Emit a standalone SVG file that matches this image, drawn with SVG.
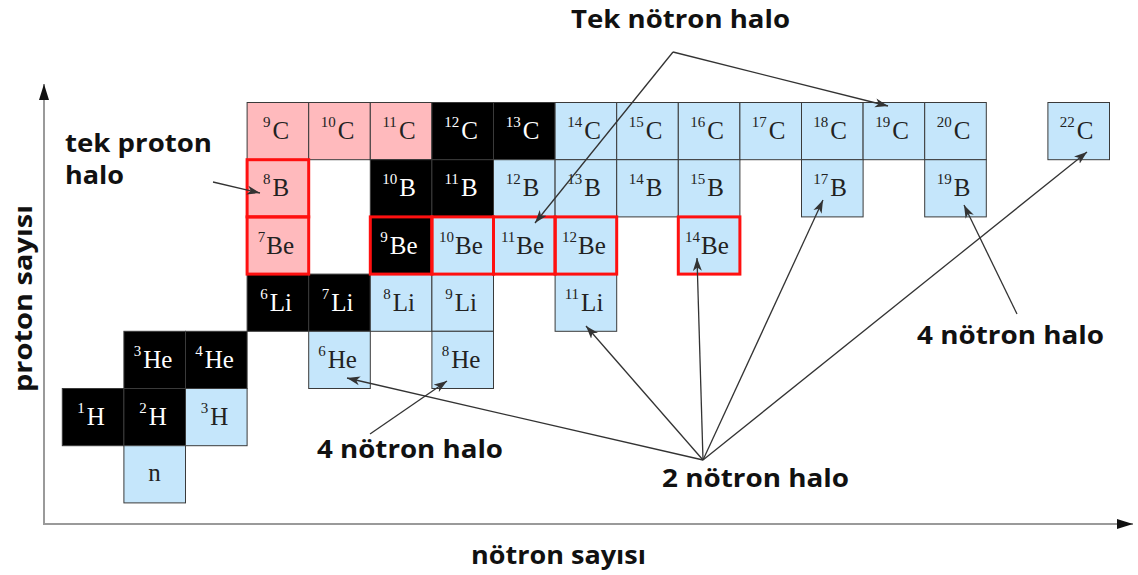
<svg xmlns="http://www.w3.org/2000/svg" width="1138" height="575" viewBox="0 0 1138 575">
<style>
.cell{stroke:#3a3a3a;stroke-width:1}
.pk{fill:#ffbabd}
.bl{fill:#c5e6fb}
.bk{fill:#000000}
.red{fill:none;stroke:#ff1010;stroke-width:3}
.iso{font-family:"Liberation Serif","DejaVu Serif",serif;font-size:25px;text-anchor:middle;fill:#222}
.w{fill:#ffffff}
.sup{font-size:15px}
.lab{font-family:"Open Sans","DejaVu Sans",sans-serif;font-weight:700;font-size:25px;fill:#111}
.conn{stroke:#333;stroke-width:1.3;fill:none}
.axis{stroke:#9a9a9a;stroke-width:2;fill:none}
</style>
<defs>
<marker id="ah" markerUnits="userSpaceOnUse" markerWidth="14" markerHeight="10" refX="13" refY="5" orient="auto">
<path d="M0,0.5 L13,5 L0,9.5 L3.5,5 Z" fill="#333"/>
</marker>
<marker id="ax" markerUnits="userSpaceOnUse" markerWidth="18" markerHeight="12" refX="16" refY="6" orient="auto">
<path d="M0,1 L16,6 L0,11 Z" fill="#111"/>
</marker>
</defs>

<g id="axes">
<line class="axis" x1="44" y1="525" x2="44" y2="84" marker-end="url(#ax)"/>
<line class="axis" x1="43" y1="524" x2="1133" y2="524" marker-end="url(#ax)"/>
<text class="lab" x="471" y="564" textLength="175" lengthAdjust="spacingAndGlyphs" font-size="23">nötron sayısı</text>
<text class="lab" transform="translate(32,392) rotate(-90)" x="0" y="0" textLength="187" lengthAdjust="spacingAndGlyphs" font-size="23">proton sayısı</text>
</g>

<!-- C row -->
<g id="C9"><rect class="cell pk" x="247.1" y="102.5" width="61.6" height="57.2"/><text class="iso" x="276" y="138.5"><tspan class="sup" dy="-12">9</tspan><tspan dx="2" dy="12">C</tspan></text></g>
<g id="C10"><rect class="cell pk" x="308.7" y="102.5" width="61.6" height="57.2"/><text class="iso" x="337.5" y="138.5"><tspan class="sup" dy="-12">10</tspan><tspan dx="2" dy="12">C</tspan></text></g>
<g id="C11"><rect class="cell pk" x="370.3" y="102.5" width="61.6" height="57.2"/><text class="iso" x="399" y="138.5"><tspan class="sup" dy="-12">11</tspan><tspan dx="2" dy="12">C</tspan></text></g>
<g id="C12"><rect class="cell bk" x="431.9" y="102.5" width="61.6" height="57.2"/><text class="iso w" x="461" y="138.5"><tspan class="sup" dy="-12">12</tspan><tspan dx="2" dy="12">C</tspan></text></g>
<g id="C13"><rect class="cell bk" x="493.5" y="102.5" width="61.6" height="57.2"/><text class="iso w" x="522.5" y="138.5"><tspan class="sup" dy="-12">13</tspan><tspan dx="2" dy="12">C</tspan></text></g>
<g id="C14"><rect class="cell bl" x="555.1" y="102.5" width="61.6" height="57.2"/><text class="iso" x="584" y="138.5"><tspan class="sup" dy="-12">14</tspan><tspan dx="2" dy="12">C</tspan></text></g>
<g id="C15"><rect class="cell bl" x="616.7" y="102.5" width="61.6" height="57.2"/><text class="iso" x="645.5" y="138.5"><tspan class="sup" dy="-12">15</tspan><tspan dx="2" dy="12">C</tspan></text></g>
<g id="C16"><rect class="cell bl" x="678.3" y="102.5" width="61.6" height="57.2"/><text class="iso" x="707" y="138.5"><tspan class="sup" dy="-12">16</tspan><tspan dx="2" dy="12">C</tspan></text></g>
<g id="C17"><rect class="cell bl" x="739.9" y="102.5" width="61.6" height="57.2"/><text class="iso" x="768.5" y="138.5"><tspan class="sup" dy="-12">17</tspan><tspan dx="2" dy="12">C</tspan></text></g>
<g id="C18"><rect class="cell bl" x="801.5" y="102.5" width="61.6" height="57.2"/><text class="iso" x="830" y="138.5"><tspan class="sup" dy="-12">18</tspan><tspan dx="2" dy="12">C</tspan></text></g>
<g id="C19"><rect class="cell bl" x="863.1" y="102.5" width="61.6" height="57.2"/><text class="iso" x="892" y="138.5"><tspan class="sup" dy="-12">19</tspan><tspan dx="2" dy="12">C</tspan></text></g>
<g id="C20"><rect class="cell bl" x="924.7" y="102.5" width="61.6" height="57.2"/><text class="iso" x="953.5" y="138.5"><tspan class="sup" dy="-12">20</tspan><tspan dx="2" dy="12">C</tspan></text></g>
<g id="C22"><rect class="cell bl" x="1047.9" y="102.5" width="61.6" height="57.2"/><text class="iso" x="1076.5" y="138.5"><tspan class="sup" dy="-12">22</tspan><tspan dx="2" dy="12">C</tspan></text></g>

<!-- B row -->
<g id="B8"><rect class="cell pk" x="247.1" y="159.7" width="61.6" height="57.2"/><text class="iso" x="276" y="196"><tspan class="sup" dy="-12">8</tspan><tspan dx="2" dy="12">B</tspan></text></g>
<g id="B10"><rect class="cell bk" x="370.3" y="159.7" width="61.6" height="57.2"/><text class="iso w" x="399" y="196"><tspan class="sup" dy="-12">10</tspan><tspan dx="2" dy="12">B</tspan></text></g>
<g id="B11"><rect class="cell bk" x="431.9" y="159.7" width="61.6" height="57.2"/><text class="iso w" x="461" y="196"><tspan class="sup" dy="-12">11</tspan><tspan dx="2" dy="12">B</tspan></text></g>
<g id="B12"><rect class="cell bl" x="493.5" y="159.7" width="61.6" height="57.2"/><text class="iso" x="522.5" y="196"><tspan class="sup" dy="-12">12</tspan><tspan dx="2" dy="12">B</tspan></text></g>
<g id="B13"><rect class="cell bl" x="555.1" y="159.7" width="61.6" height="57.2"/><text class="iso" x="584" y="196"><tspan class="sup" dy="-12">13</tspan><tspan dx="2" dy="12">B</tspan></text></g>
<g id="B14"><rect class="cell bl" x="616.7" y="159.7" width="61.6" height="57.2"/><text class="iso" x="645.5" y="196"><tspan class="sup" dy="-12">14</tspan><tspan dx="2" dy="12">B</tspan></text></g>
<g id="B15"><rect class="cell bl" x="678.3" y="159.7" width="61.6" height="57.2"/><text class="iso" x="707" y="196"><tspan class="sup" dy="-12">15</tspan><tspan dx="2" dy="12">B</tspan></text></g>
<g id="B17"><rect class="cell bl" x="801.5" y="159.7" width="61.6" height="57.2"/><text class="iso" x="830" y="196"><tspan class="sup" dy="-12">17</tspan><tspan dx="2" dy="12">B</tspan></text></g>
<g id="B19"><rect class="cell bl" x="924.7" y="159.7" width="61.6" height="57.2"/><text class="iso" x="953.5" y="196"><tspan class="sup" dy="-12">19</tspan><tspan dx="2" dy="12">B</tspan></text></g>

<!-- Li row -->
<g id="Li6"><rect class="cell bk" x="247.1" y="274.1" width="61.6" height="57.2"/><text class="iso w" x="276" y="310.5"><tspan class="sup" dy="-12">6</tspan><tspan dx="2" dy="12">Li</tspan></text></g>
<g id="Li7"><rect class="cell bk" x="308.7" y="274.1" width="61.6" height="57.2"/><text class="iso w" x="337.5" y="310.5"><tspan class="sup" dy="-12">7</tspan><tspan dx="2" dy="12">Li</tspan></text></g>
<g id="Li8"><rect class="cell bl" x="370.3" y="274.1" width="61.6" height="57.2"/><text class="iso" x="399" y="310.5"><tspan class="sup" dy="-12">8</tspan><tspan dx="2" dy="12">Li</tspan></text></g>
<g id="Li9"><rect class="cell bl" x="431.9" y="274.1" width="61.6" height="57.2"/><text class="iso" x="461" y="310.5"><tspan class="sup" dy="-12">9</tspan><tspan dx="2" dy="12">Li</tspan></text></g>
<g id="Li11"><rect class="cell bl" x="555.1" y="274.1" width="61.6" height="57.2"/><text class="iso" x="584" y="310.5"><tspan class="sup" dy="-12">11</tspan><tspan dx="2" dy="12">Li</tspan></text></g>

<!-- Be row (after Li so red borders are on top) -->
<g id="Be7"><rect class="cell pk" x="247.1" y="216.9" width="61.6" height="57.2"/><text class="iso" x="276" y="253.5"><tspan class="sup" dy="-12">7</tspan><tspan dx="1" dy="12">Be</tspan></text></g>
<g id="Be9"><rect class="cell bk" x="370.3" y="216.9" width="61.6" height="57.2"/><text class="iso w" x="399" y="253.5"><tspan class="sup" dy="-12">9</tspan><tspan dx="2" dy="12">Be</tspan></text></g>
<g id="Be10"><rect class="cell bl" x="431.9" y="216.9" width="61.6" height="57.2"/><text class="iso" x="461" y="253.5"><tspan class="sup" dy="-12">10</tspan><tspan dx="1" dy="12">Be</tspan></text></g>
<g id="Be11"><rect class="cell bl" x="493.5" y="216.9" width="61.6" height="57.2"/><text class="iso" x="522.5" y="253.5"><tspan class="sup" dy="-12">11</tspan><tspan dx="1" dy="12">Be</tspan></text></g>
<g id="Be12"><rect class="cell bl" x="555.1" y="216.9" width="61.6" height="57.2"/><text class="iso" x="584" y="253.5"><tspan class="sup" dy="-12">12</tspan><tspan dx="1" dy="12">Be</tspan></text></g>
<g id="Be14"><rect class="cell bl" x="678.3" y="216.9" width="61.6" height="57.2"/><text class="iso" x="707" y="253.5"><tspan class="sup" dy="-12">14</tspan><tspan dx="1" dy="12">Be</tspan></text></g>

<!-- He row -->
<g id="He3"><rect class="cell bk" x="123.9" y="331.3" width="61.6" height="57.2"/><text class="iso w" x="153" y="367.5"><tspan class="sup" dy="-12">3</tspan><tspan dx="2" dy="12">He</tspan></text></g>
<g id="He4"><rect class="cell bk" x="185.5" y="331.3" width="61.6" height="57.2"/><text class="iso w" x="214.5" y="367.5"><tspan class="sup" dy="-12">4</tspan><tspan dx="2" dy="12">He</tspan></text></g>
<g id="He6"><rect class="cell bl" x="308.7" y="331.3" width="61.6" height="57.2"/><text class="iso" x="337.5" y="367.5"><tspan class="sup" dy="-12">6</tspan><tspan dx="2" dy="12">He</tspan></text></g>
<g id="He8"><rect class="cell bl" x="431.9" y="331.3" width="61.6" height="57.2"/><text class="iso" x="461" y="367.5"><tspan class="sup" dy="-12">8</tspan><tspan dx="2" dy="12">He</tspan></text></g>

<!-- H row -->
<g id="H1"><rect class="cell bk" x="62.3" y="388.5" width="61.6" height="57.2"/><text class="iso w" x="91" y="424.5"><tspan class="sup" dy="-12">1</tspan><tspan dx="2" dy="12">H</tspan></text></g>
<g id="H2"><rect class="cell bk" x="123.9" y="388.5" width="61.6" height="57.2"/><text class="iso w" x="153" y="424.5"><tspan class="sup" dy="-12">2</tspan><tspan dx="2" dy="12">H</tspan></text></g>
<g id="H3"><rect class="cell bl" x="185.5" y="388.5" width="61.6" height="57.2"/><text class="iso" x="214.5" y="424.5"><tspan class="sup" dy="-12">3</tspan><tspan dx="2" dy="12">H</tspan></text></g>

<!-- neutron -->
<g id="n"><rect class="cell bl" x="123.9" y="445.7" width="61.6" height="57.2"/><text class="iso" x="154.5" y="481" font-size="22">n</text></g>

<!-- red halo outlines -->
<g id="halo-outlines">
<rect class="red" x="247.1" y="159.7" width="61.6" height="57.2"/>
<rect class="red" x="247.1" y="216.9" width="61.6" height="57.2"/>
<rect class="red" x="370.3" y="216.9" width="61.6" height="57.2"/>
<rect class="red" x="431.9" y="216.9" width="61.6" height="57.2"/>
<rect class="red" x="493.5" y="216.9" width="61.6" height="57.2"/>
<rect class="red" x="555.1" y="216.9" width="61.6" height="57.2"/>
<rect class="red" x="678.3" y="216.9" width="61.6" height="57.2"/>
</g>

<!-- labels -->
<g id="label-tek-notron"><text class="lab" x="571" y="28" textLength="219" lengthAdjust="spacingAndGlyphs">Tek nötron halo</text></g>
<g id="label-tek-proton"><text class="lab" x="65" y="152" textLength="147" lengthAdjust="spacingAndGlyphs">tek proton</text><text class="lab" x="65" y="184" textLength="59" lengthAdjust="spacingAndGlyphs">halo</text></g>
<g id="label-4n-left"><text class="lab" x="317" y="458" textLength="186" lengthAdjust="spacingAndGlyphs">4 nötron halo</text></g>
<g id="label-2n"><text class="lab" x="662" y="487" textLength="187" lengthAdjust="spacingAndGlyphs">2 nötron halo</text></g>
<g id="label-4n-right"><text class="lab" x="917" y="344" textLength="187" lengthAdjust="spacingAndGlyphs">4 nötron halo</text></g>

<!-- connectors -->
<g id="connectors">
<line class="conn" x1="673" y1="52" x2="888" y2="106" marker-end="url(#ah)"/>
<line class="conn" x1="673" y1="52" x2="535" y2="223" marker-end="url(#ah)"/>
<line class="conn" x1="213" y1="182" x2="260" y2="193" marker-end="url(#ah)"/>
<line class="conn" x1="370" y1="434" x2="447" y2="381" marker-end="url(#ah)"/>
<line class="conn" x1="703" y1="460" x2="347" y2="378" marker-end="url(#ah)"/>
<line class="conn" x1="703" y1="460" x2="586" y2="326" marker-end="url(#ah)"/>
<line class="conn" x1="703" y1="460" x2="697" y2="258" marker-end="url(#ah)"/>
<line class="conn" x1="703" y1="460" x2="823" y2="200" marker-end="url(#ah)"/>
<line class="conn" x1="703" y1="460" x2="1087" y2="152" marker-end="url(#ah)"/>
<line class="conn" x1="1017" y1="314" x2="964" y2="205" marker-end="url(#ah)"/>
</g>
</svg>
